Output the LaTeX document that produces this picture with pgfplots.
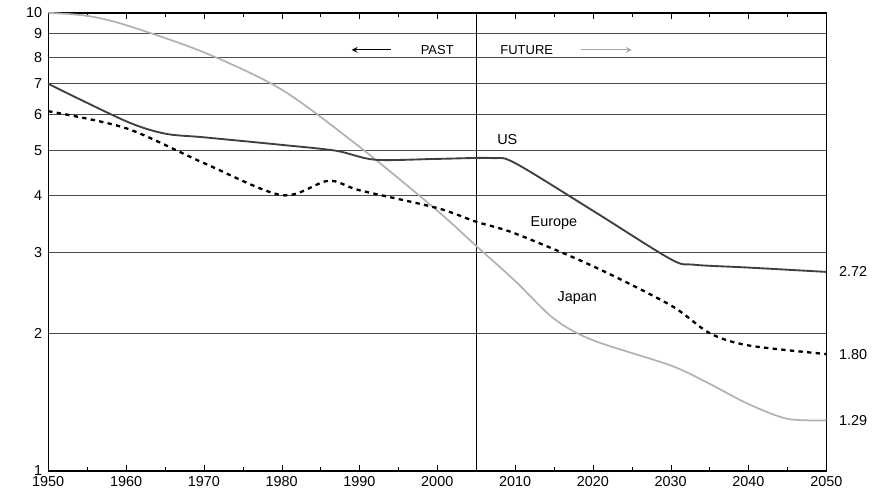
\documentclass[border=0pt]{standalone}
\usepackage{pgfplots}
\pgfplotsset{compat=1.18}
\usepackage{fontspec}
\setmainfont{Liberation Sans}
\begin{document}
\begin{tikzpicture}
\begin{axis}[scale only axis, width=540pt, height=318pt,
 ymode=log, ymin=1, ymax=10, xmin=1950, xmax=2050,
 ytick={1,2,3,4,5,6,7,8,9,10}, yticklabels={1,2,3,4,5,6,7,8,9,10},
 yminorticks=false, ymajorgrids, grid style={black!70, line width=0.8pt},
 xtick={1950,1960,...,2050}, minor xtick={1955,1965,...,2045},
 x tick label style={/pgf/number format/1000 sep={}},
 /pgf/number format/assume math mode=true,
 tick style={black}, axis line style={line width=1pt},
 tick align=inside, ytick style={draw=none},
 yticklabel style={inner sep=4pt},
 clip=false, tick label style={font=\normalsize},
]
\path (rel axis cs:-0.062,0.5) circle (0pt);
\path (rel axis cs:0.5,1.028) circle (0pt);
\draw[line width=0.9pt] (axis cs:2005,1) -- (axis cs:2005,10);
\addplot[gray!60, line width=1.2pt, smooth] coordinates {(1950,10)(1955,9.85)(1960,9.4)(1970,8.2)(1980,6.8)(1990,5.1)(2000,3.7)(2005,3.1)(2010,2.6)(2015,2.15)(2020,1.93)(2030,1.7)(2035,1.55)(2040,1.4)(2045,1.3)(2050,1.29)};
\addplot[black!75, line width=1.3pt, smooth] coordinates {(1950,7.0)(1960,5.8)(1965,5.45)(1970,5.35)(1980,5.15)(1987,5.0)(1992,4.78)(2000,4.8)(2007,4.82)(2010,4.7)(2020,3.7)(2030,2.9)(2033,2.82)(2040,2.78)(2050,2.72)};
\addplot[black, dashed, line width=1.6pt, smooth] coordinates {(1950,6.1)(1960,5.6)(1970,4.7)(1980,4.0)(1986,4.3)(1990,4.1)(2000,3.75)(2005,3.5)(2010,3.3)(2020,2.8)(2030,2.3)(2035,2.0)(2040,1.88)(2050,1.80)};
\node[font=\small] at (axis cs:2000,8.3) {PAST};
\node[font=\small] at (axis cs:2011.5,8.3) {FUTURE};
\draw[-stealth, line width=0.8pt] (axis cs:1994,8.3) -- (axis cs:1989,8.3);
\draw[-stealth, gray!70, line width=0.8pt] (axis cs:2018.5,8.3) -- (axis cs:2025,8.3);
\node[font=\normalsize] at (axis cs:2009,5.28) {US};
\node[font=\normalsize] at (axis cs:2015,3.48) {Europe};
\node[font=\normalsize] at (axis cs:2018,2.39) {Japan};
\node[anchor=west,font=\normalsize] at (axis cs:2051,2.72) {2.72};
\node[anchor=west,font=\normalsize] at (axis cs:2051,1.80) {1.80};
\node[anchor=west,font=\normalsize] at (axis cs:2051,1.29) {1.29};
\end{axis}
\end{tikzpicture}
\end{document}
